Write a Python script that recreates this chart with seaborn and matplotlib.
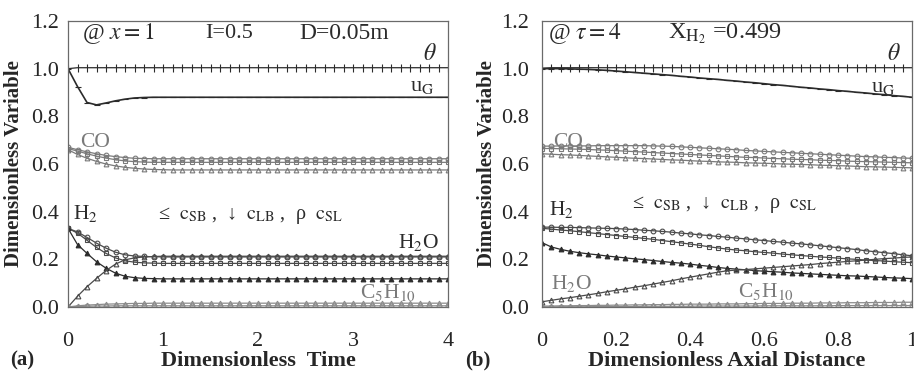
"""Transient and axial profiles of dimensionless variables, panels (a) and (b)."""

import matplotlib
matplotlib.use("Agg")
import matplotlib.pyplot as plt
import seaborn as sns

# ---- panel (a): outlet (x = 1) versus dimensionless time ----
tau = [0.0, 0.1, 0.2, 0.3, 0.4, 0.5, 0.6, 0.7, 0.8, 0.9,
       1.0, 1.1, 1.2, 1.3, 1.4, 1.5, 1.6, 1.7, 1.8, 1.9,
       2.0, 2.1, 2.2, 2.3, 2.4, 2.5, 2.6, 2.7, 2.8, 2.9,
       3.0, 3.1, 3.2, 3.3, 3.4, 3.5, 3.6, 3.7, 3.8, 3.9, 4.0]

theta_a = [1.000, 1.004, 1.004, 1.004, 1.004, 1.004, 1.004, 1.004, 1.004, 1.004,
           1.004, 1.004, 1.004, 1.004, 1.004, 1.004, 1.004, 1.004, 1.004, 1.004,
           1.004, 1.004, 1.004, 1.004, 1.004, 1.004, 1.004, 1.004, 1.004, 1.004,
           1.004, 1.004, 1.004, 1.004, 1.004, 1.004, 1.004, 1.004, 1.004, 1.004, 1.004]
ug_a = [1.000, 0.925, 0.858, 0.848, 0.856, 0.865, 0.872, 0.877, 0.879, 0.880,
        0.880, 0.880, 0.880, 0.880, 0.880, 0.880, 0.880, 0.880, 0.880, 0.880,
        0.880, 0.880, 0.880, 0.880, 0.880, 0.880, 0.880, 0.880, 0.880, 0.880,
        0.880, 0.880, 0.880, 0.880, 0.880, 0.880, 0.880, 0.880, 0.880, 0.880, 0.880]
co_sb_a = [0.670, 0.660, 0.651, 0.643, 0.636, 0.631, 0.627, 0.624, 0.623, 0.622,
           0.622, 0.622, 0.622, 0.622, 0.622, 0.622, 0.622, 0.622, 0.622, 0.622,
           0.622, 0.622, 0.622, 0.622, 0.622, 0.622, 0.622, 0.622, 0.622, 0.622,
           0.622, 0.622, 0.622, 0.622, 0.622, 0.622, 0.622, 0.622, 0.622, 0.622, 0.622]
co_lb_a = [0.665, 0.654, 0.643, 0.633, 0.625, 0.618, 0.613, 0.610, 0.608, 0.607,
           0.607, 0.607, 0.607, 0.607, 0.607, 0.607, 0.607, 0.607, 0.607, 0.607,
           0.607, 0.607, 0.607, 0.607, 0.607, 0.607, 0.607, 0.607, 0.607, 0.607,
           0.607, 0.607, 0.607, 0.607, 0.607, 0.607, 0.607, 0.607, 0.607, 0.607, 0.607]
co_sl_a = [0.660, 0.640, 0.624, 0.611, 0.600, 0.592, 0.586, 0.582, 0.579, 0.577,
           0.576, 0.575, 0.575, 0.575, 0.575, 0.575, 0.575, 0.575, 0.575, 0.575,
           0.575, 0.575, 0.575, 0.575, 0.575, 0.575, 0.575, 0.575, 0.575, 0.575,
           0.575, 0.575, 0.575, 0.575, 0.575, 0.575, 0.575, 0.575, 0.575, 0.575, 0.575]
h2_sb_a = [0.330, 0.315, 0.292, 0.268, 0.247, 0.230, 0.219, 0.214, 0.212, 0.211,
           0.210, 0.210, 0.210, 0.210, 0.210, 0.210, 0.210, 0.210, 0.210, 0.210,
           0.210, 0.210, 0.210, 0.210, 0.210, 0.210, 0.210, 0.210, 0.210, 0.210,
           0.210, 0.210, 0.210, 0.210, 0.210, 0.210, 0.210, 0.210, 0.210, 0.210, 0.210]
h2_lb_a = [0.330, 0.310, 0.280, 0.250, 0.225, 0.206, 0.194, 0.188, 0.185, 0.184,
           0.183, 0.183, 0.183, 0.183, 0.183, 0.183, 0.183, 0.183, 0.183, 0.183,
           0.183, 0.183, 0.183, 0.183, 0.183, 0.183, 0.183, 0.183, 0.183, 0.183,
           0.183, 0.183, 0.183, 0.183, 0.183, 0.183, 0.183, 0.183, 0.183, 0.183, 0.183]
h2_sl_a = [0.330, 0.262, 0.225, 0.190, 0.163, 0.142, 0.129, 0.123, 0.120, 0.119,
           0.118, 0.118, 0.118, 0.118, 0.118, 0.118, 0.118, 0.118, 0.118, 0.118,
           0.118, 0.118, 0.118, 0.118, 0.118, 0.118, 0.118, 0.118, 0.118, 0.118,
           0.118, 0.118, 0.118, 0.118, 0.118, 0.118, 0.118, 0.118, 0.118, 0.118, 0.118]
h2o_a = [0.000, 0.045, 0.085, 0.120, 0.153, 0.180, 0.198, 0.206, 0.210, 0.212,
         0.213, 0.213, 0.213, 0.213, 0.213, 0.213, 0.213, 0.213, 0.213, 0.213,
         0.213, 0.213, 0.213, 0.213, 0.213, 0.213, 0.213, 0.213, 0.213, 0.213,
         0.213, 0.213, 0.213, 0.213, 0.213, 0.213, 0.213, 0.213, 0.213, 0.213, 0.213]
c5_sb_a = [0.000, 0.005, 0.008, 0.010, 0.012, 0.013, 0.014, 0.015, 0.015, 0.016,
           0.016, 0.016, 0.016, 0.016, 0.016, 0.016, 0.016, 0.016, 0.016, 0.016,
           0.016, 0.016, 0.016, 0.016, 0.016, 0.016, 0.016, 0.016, 0.016, 0.016,
           0.016, 0.016, 0.016, 0.016, 0.016, 0.016, 0.016, 0.016, 0.016, 0.016, 0.016]
c5_sl_a = [0.000, 0.002, 0.003, 0.004, 0.004, 0.005, 0.005, 0.005, 0.005, 0.005,
           0.005, 0.005, 0.005, 0.005, 0.005, 0.005, 0.005, 0.005, 0.005, 0.005,
           0.005, 0.005, 0.005, 0.005, 0.005, 0.005, 0.005, 0.005, 0.005, 0.005,
           0.005, 0.005, 0.005, 0.005, 0.005, 0.005, 0.005, 0.005, 0.005, 0.005, 0.005]

# ---- panel (b): steady profile (tau = 4) versus axial distance ----
zeta = [0.000, 0.025, 0.050, 0.075, 0.100, 0.125, 0.150, 0.175, 0.200, 0.225,
        0.250, 0.275, 0.300, 0.325, 0.350, 0.375, 0.400, 0.425, 0.450, 0.475,
        0.500, 0.525, 0.550, 0.575, 0.600, 0.625, 0.650, 0.675, 0.700, 0.725,
        0.750, 0.775, 0.800, 0.825, 0.850, 0.875, 0.900, 0.925, 0.950, 0.975, 1.000]

theta_b = [1.002, 1.004, 1.004, 1.004, 1.004, 1.004, 1.004, 1.004, 1.004, 1.004,
           1.004, 1.004, 1.004, 1.004, 1.004, 1.004, 1.004, 1.004, 1.004, 1.004,
           1.004, 1.004, 1.004, 1.004, 1.004, 1.004, 1.004, 1.004, 1.004, 1.004,
           1.004, 1.004, 1.004, 1.004, 1.004, 1.004, 1.004, 1.004, 1.004, 1.004, 1.004]
ug_b = [1.000, 1.000, 1.000, 0.999, 0.998, 0.997, 0.995, 0.993, 0.990, 0.987,
        0.984, 0.981, 0.978, 0.975, 0.972, 0.968, 0.965, 0.961, 0.958, 0.955,
        0.951, 0.948, 0.944, 0.941, 0.937, 0.933, 0.930, 0.926, 0.922, 0.919,
        0.915, 0.912, 0.908, 0.905, 0.901, 0.898, 0.894, 0.891, 0.887, 0.884, 0.880]
co_sb_b = [0.675, 0.675, 0.676, 0.676, 0.676, 0.676, 0.677, 0.677, 0.677, 0.677,
           0.677, 0.677, 0.676, 0.675, 0.674, 0.672, 0.670, 0.668, 0.666, 0.664,
           0.662, 0.660, 0.657, 0.655, 0.653, 0.651, 0.649, 0.647, 0.645, 0.643,
           0.641, 0.639, 0.637, 0.635, 0.633, 0.631, 0.630, 0.628, 0.627, 0.625, 0.624]
co_lb_b = [0.665, 0.665, 0.664, 0.663, 0.662, 0.661, 0.659, 0.658, 0.656, 0.654,
           0.652, 0.650, 0.648, 0.646, 0.644, 0.642, 0.640, 0.638, 0.636, 0.634,
           0.632, 0.630, 0.628, 0.627, 0.625, 0.623, 0.622, 0.620, 0.619, 0.618,
           0.616, 0.615, 0.614, 0.612, 0.611, 0.610, 0.609, 0.608, 0.607, 0.606, 0.605]
co_sl_b = [0.643, 0.641, 0.639, 0.638, 0.636, 0.634, 0.632, 0.630, 0.628, 0.626,
           0.624, 0.623, 0.621, 0.619, 0.617, 0.616, 0.614, 0.612, 0.611, 0.609,
           0.608, 0.607, 0.605, 0.604, 0.603, 0.602, 0.600, 0.599, 0.598, 0.597,
           0.595, 0.594, 0.593, 0.592, 0.590, 0.589, 0.588, 0.587, 0.586, 0.585, 0.584]
h2_sb_b = [0.335, 0.335, 0.334, 0.334, 0.333, 0.332, 0.331, 0.330, 0.329, 0.327,
           0.325, 0.322, 0.320, 0.317, 0.314, 0.310, 0.307, 0.303, 0.300, 0.296,
           0.293, 0.289, 0.286, 0.282, 0.279, 0.275, 0.272, 0.268, 0.265, 0.261,
           0.257, 0.253, 0.249, 0.245, 0.241, 0.236, 0.232, 0.228, 0.224, 0.219, 0.215]
h2_lb_b = [0.330, 0.327, 0.323, 0.320, 0.316, 0.312, 0.308, 0.304, 0.300, 0.296,
           0.292, 0.288, 0.284, 0.279, 0.274, 0.269, 0.264, 0.259, 0.253, 0.248,
           0.243, 0.239, 0.236, 0.232, 0.229, 0.226, 0.222, 0.219, 0.216, 0.213,
           0.210, 0.208, 0.205, 0.202, 0.200, 0.197, 0.195, 0.193, 0.190, 0.188, 0.186]
h2_sl_b = [0.270, 0.252, 0.242, 0.234, 0.228, 0.223, 0.219, 0.214, 0.210, 0.206,
           0.202, 0.199, 0.195, 0.191, 0.187, 0.184, 0.180, 0.175, 0.171, 0.166,
           0.162, 0.159, 0.156, 0.153, 0.150, 0.148, 0.146, 0.143, 0.141, 0.139,
           0.137, 0.135, 0.133, 0.131, 0.130, 0.128, 0.126, 0.124, 0.122, 0.121, 0.119]
h2o_b = [0.022, 0.028, 0.034, 0.039, 0.045, 0.051, 0.057, 0.064, 0.070, 0.076,
         0.083, 0.089, 0.096, 0.103, 0.110, 0.118, 0.125, 0.132, 0.139, 0.146,
         0.152, 0.155, 0.157, 0.160, 0.163, 0.166, 0.169, 0.172, 0.175, 0.178,
         0.182, 0.185, 0.188, 0.191, 0.194, 0.197, 0.200, 0.203, 0.205, 0.208, 0.210]
c5_sb_b = [0.004, 0.004, 0.005, 0.005, 0.006, 0.006, 0.007, 0.007, 0.008, 0.008,
           0.009, 0.009, 0.010, 0.010, 0.011, 0.011, 0.012, 0.012, 0.012, 0.013,
           0.013, 0.013, 0.014, 0.014, 0.015, 0.015, 0.015, 0.016, 0.016, 0.016,
           0.017, 0.017, 0.017, 0.018, 0.018, 0.018, 0.019, 0.019, 0.019, 0.020, 0.020]
c5_sl_b = [0.000, 0.000, 0.001, 0.001, 0.001, 0.001, 0.002, 0.002, 0.002, 0.002,
           0.002, 0.003, 0.003, 0.003, 0.003, 0.003, 0.003, 0.004, 0.004, 0.004,
           0.004, 0.004, 0.004, 0.004, 0.005, 0.005, 0.005, 0.005, 0.005, 0.005,
           0.005, 0.005, 0.006, 0.006, 0.006, 0.006, 0.006, 0.006, 0.006, 0.006, 0.006]

Y_TICKS = [0.0, 0.2, 0.4, 0.6, 0.8, 1.0, 1.2]
Y_TICK_LABELS = ["0.0", "0.2", "0.4", "0.6", "0.8", "1.0", "1.2"]
XA_TICKS = [0, 1, 2, 3, 4]
XB_TICKS = [0, 0.2, 0.4, 0.6, 0.8, 1]
XB_TICK_LABELS = ["0", "0.2", "0.4", "0.6", "0.8", "1"]

DARK = "#2b2b2b"
MID = "#4a4a4a"
GREY = "#7a7a7a"
LIGHT = "#8c8c8c"
SERIF = ["Liberation Serif", "DejaVu Serif"]

sns.set_style("white")
plt.rcParams["font.family"] = SERIF
plt.rcParams["mathtext.fontset"] = "stix"


def draw(ax, x, y, marker, color, ms=3.4, filled=False, lw=0.9):
    sns.lineplot(
        x=x, y=y, ax=ax, color=color, linewidth=lw,
        marker=marker, markersize=ms,
        markerfacecolor=color if filled else "none",
        markeredgecolor=color, markeredgewidth=0.8,
    )


def style_axes(ax, xlim, xticks, xticklabels, xlabel, ylabel_pad, ytick_len):
    ax.set_xlim(*xlim)
    ax.set_ylim(0, 1.2)
    ax.set_xticks(xticks)
    ax.set_xticklabels(xticklabels)
    ax.set_yticks(Y_TICKS)
    ax.set_yticklabels(Y_TICK_LABELS)
    ax.tick_params(axis="x", direction="in", length=5, pad=18, labelsize=16, color="#555555")
    ax.tick_params(axis="y", direction="out", length=ytick_len, pad=1.5, labelsize=16, color="#555555")
    for spine in ax.spines.values():
        spine.set_visible(True)
        spine.set_color("#6a6a6a")
        spine.set_linewidth(0.9)
    ax.set_xlabel(xlabel, fontsize=16, fontweight="bold", labelpad=0)
    ax.set_ylabel("Dimensionless Variable", fontsize=15, fontweight="bold", labelpad=ylabel_pad)
    ax.grid(False)


def plot_species(ax, x, theta, ug, co, h2, h2o, c5):
    draw(ax, x, theta, "|", DARK, ms=6, lw=0.9)
    draw(ax, x, ug, "_", DARK, ms=5, lw=1.2)
    for y, m in zip(co, ["o", "s", "^"]):
        draw(ax, x, y, m, GREY)
    draw(ax, x, h2[0], "o", MID)
    draw(ax, x, h2[1], "s", MID)
    draw(ax, x, h2[2], "^", DARK, filled=True)
    draw(ax, x, h2o, "^", MID)
    draw(ax, x, c5[0], "^", LIGHT)
    draw(ax, x, c5[1], "o", LIGHT)


fig = plt.figure(figsize=(9.14, 3.73), dpi=100)
ax_a = fig.add_axes([68 / 914, 1 - 307 / 373, 380 / 914, 286 / 373])
ax_b = fig.add_axes([542 / 914, 1 - 307 / 373, 370 / 914, 286 / 373])

plot_species(ax_a, tau, theta_a, ug_a, [co_sb_a, co_lb_a, co_sl_a],
             [h2_sb_a, h2_lb_a, h2_sl_a], h2o_a, [c5_sb_a, c5_sl_a])
plot_species(ax_b, zeta, theta_b, ug_b, [co_sb_b, co_lb_b, co_sl_b],
             [h2_sb_b, h2_lb_b, h2_sl_b], h2o_b, [c5_sb_b, c5_sl_b])

style_axes(ax_a, (0, 4), XA_TICKS, [str(t) for t in XA_TICKS],
           "Dimensionless  Time", 5, 5)
style_axes(ax_b, (0, 1), XB_TICKS, XB_TICK_LABELS,
           "Dimensionless Axial Distance", 3, 8)

symbols = r"≤  $\mathrm{c}_{\mathrm{SB}}$ ,  ↓  $\mathrm{c}_{\mathrm{LB}}$ ,  ρ  $\mathrm{c}_{\mathrm{SL}}$"

# panel (a) annotations
ax_a.text(0.15, 1.146, r"@ $x=1$", fontsize=17, va="center", color=DARK)
ax_a.text(1.44, 1.146, "I=0.5", fontsize=16, va="center", color=DARK)
ax_a.text(2.44, 1.146, "D=0.05m", fontsize=17, va="center", color=DARK)
ax_a.text(3.81, 1.06, r"$\theta$", fontsize=17, ha="center", va="center", color=DARK)
ax_a.text(3.6, 0.925, r"u$_\mathrm{G}$", fontsize=16, va="center", color=DARK)
ax_a.text(0.13, 0.69, "CO", fontsize=15.5, va="center", color=GREY)
ax_a.text(0.05, 0.394, r"H$_2$", fontsize=15.5, va="center", color=DARK)
ax_a.text(0.95, 0.386, symbols, fontsize=14.5, va="center", color=DARK)
ax_a.text(3.47, 0.272, r"H$_2$O", fontsize=15.5, va="center", color=DARK)
ax_a.text(3.07, 0.06, r"C$_5$H$_{10}$", fontsize=15.5, va="center", color=GREY)

# panel (b) annotations
ax_b.text(0.016, 1.146, r"@ $\tau=4$", fontsize=17, va="center", color=DARK)
ax_b.text(0.34, 1.146, r"X$_{\mathrm{H}_2}$ =0.499", fontsize=17.5, va="center", color=DARK)
ax_b.text(0.95, 1.06, r"$\theta$", fontsize=17, ha="center", va="center", color=DARK)
ax_b.text(0.89, 0.92, r"u$_\mathrm{G}$", fontsize=16, va="center", color=DARK)
ax_b.text(0.03, 0.69, "CO", fontsize=15.5, va="center", color=GREY)
ax_b.text(0.02, 0.407, r"H$_2$", fontsize=15.5, va="center", color=DARK)
ax_b.text(0.243, 0.428, symbols, fontsize=14.5, va="center", color=DARK)
ax_b.text(0.024, 0.10, r"H$_2$O", fontsize=15.5, va="center", color=GREY)
ax_b.text(0.53, 0.063, r"C$_5$H$_{10}$", fontsize=15.5, va="center", color=GREY)

fig.text(10 / 914, 1 - 360 / 373, "(a)", fontsize=15, fontweight="bold", va="center")
fig.text(465 / 914, 1 - 360 / 373, "(b)", fontsize=15, fontweight="bold", va="center")

fig.savefig("out.png", dpi=100)
